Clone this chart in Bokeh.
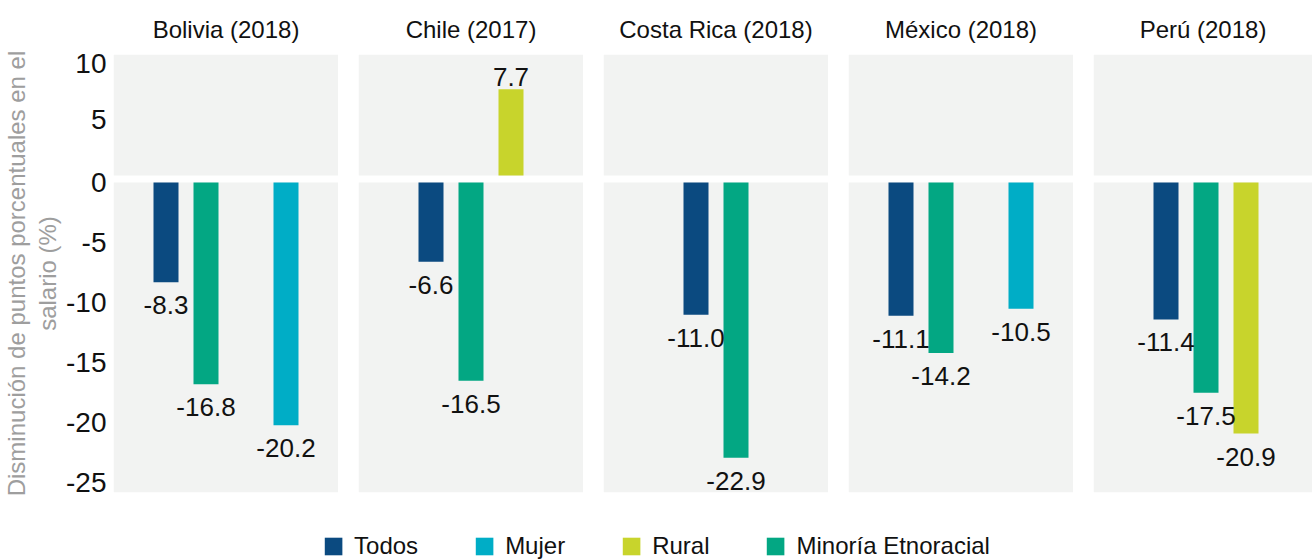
from bokeh.core.properties import value
from bokeh.embed import file_html
from bokeh.layouts import column, row
from bokeh.models import (BoxAnnotation, ColumnDataSource, CustomJSTickFormatter,
                          FixedTicker, Legend, LegendItem, Range1d, Title)
from bokeh.plotting import figure
from bokeh.resources import INLINE
import math

# ---- data -------------------------------------------------------------
countries = ["Bolivia (2018)", "Chile (2017)", "Costa Rica (2018)", "México (2018)", "Perú (2018)"]
todos = [-8.3, -6.6, -11.0, -11.1, -11.4]
mujer = [-20.2, None, None, -10.5, None]
rural = [None, 7.7, None, None, -20.9]
minoria = [-16.8, -16.5, -22.9, -14.2, -17.5]
legend_labels = ["Todos", "Mujer", "Rural", "Minoría Etnoracial"]
neg_ticks = [-25, -20, -15, -10, -5, 0]
pos_ticks = [5, 10]
y_title = ["Disminución de puntos porcentuales en el", "salario (%)"]

series = {"Todos": todos, "Mujer": mujer, "Rural": rural, "Minoría Etnoracial": minoria}
colors = {"Todos": "#0B4A80", "Mujer": "#00ADC6", "Rural": "#C8D42C",
          "Minoría Etnoracial": "#03A783"}
# order of the bar slots inside each panel
slot_order = ["Todos", "Minoría Etnoracial", "Rural", "Mujer"]

# ---- style / geometry ----------------------------------------------------
FONT = "Liberation Sans"
INK = "#111111"
PANEL_BG = "#F2F3F2"
AXIS_GREY = "#9E9E9E"

PAGE_W = 1312
LEFT_W = 113
PANEL_W = 225
GAP_W = 20
TITLE_H = 54
POS_H = 121
BREAK_H = 7
NEG_H = 310
FOOT_H = 10
LEGEND_H = 58
SLOT_PX = 40
BAR_PX = 25

NEG_MIN = -25.8
POS_MAX = 10.8
k_neg = NEG_H / -NEG_MIN          # px per unit, lower panel
k_pos = POS_H / POS_MAX           # px per unit, upper panel
main_top = (POS_H + BREAK_H) / k_neg
pos_bottom = -(NEG_H + BREAK_H) / k_pos
FRAME_H = POS_H + BREAK_H + NEG_H


def pos_to_main(v):
    """Position of an upper-panel value on the lower panel's scale."""
    return NEG_MIN + (NEG_H + BREAK_H + v * k_pos) / k_neg


tick_positions = [float(t) for t in neg_ticks] + [pos_to_main(t) for t in pos_ticks]
tick_formatter = CustomJSTickFormatter(
    args=dict(nmin=NEG_MIN, kn=k_neg, kp=k_pos, off=NEG_H + BREAK_H),
    code="""
        if (tick > 0) {
            return String(Math.round(((tick - nmin) * kn - off) / kp));
        }
        return String(Math.round(tick));
    """,
)

panels = []
last = len(countries) - 1
for i, country in enumerate(countries):
    present = [s for s in slot_order if series[s][i] is not None]
    n_slots = max(slot_order.index(s) for s in present) + 1
    centre = (n_slots - 1) / 2
    fw = PANEL_W if i < last else PAGE_W - LEFT_W - PANEL_W - (last - 1) * (GAP_W + PANEL_W) - GAP_W
    x0 = centre - PANEL_W / 2 / SLOT_PX
    x_range = Range1d(x0, x0 + fw / SLOT_PX)

    neg = dict(x=[], v=[], c=[], t=[])
    pos = dict(x=[], v=[], c=[], t=[])
    for s in present:
        v = series[s][i]
        d = pos if v > 0 else neg
        d["x"].append(slot_order.index(s))
        d["v"].append(v)
        d["c"].append(colors[s])
        d["t"].append(f"{v:.1f}")

    p = figure(frame_width=fw, frame_height=FRAME_H, x_range=x_range,
               y_range=Range1d(NEG_MIN, main_top), output_backend="svg",
               toolbar_location=None, title=country,
               min_border_left=LEFT_W if i == 0 else GAP_W, min_border_right=0,
               min_border_top=TITLE_H, min_border_bottom=FOOT_H,
               x_axis_location=None, y_axis_location="left" if i == 0 else None,
               background_fill_color="white", border_fill_color="white",
               outline_line_color=None)
    p.extra_y_ranges = {"pos": Range1d(pos_bottom, POS_MAX)}
    p.xgrid.grid_line_color = None
    p.ygrid.grid_line_color = None

    p.title.align = "center"
    p.title.text_font = FONT
    p.title.text_font_size = "24px"
    p.title.text_font_style = "normal"
    p.title.text_color = INK
    p.title.standoff = 24

    # grey panel backgrounds: lower (negative) and upper (positive)
    p.add_layout(BoxAnnotation(bottom=NEG_MIN, top=0, fill_color=PANEL_BG, fill_alpha=1,
                               line_color=None, level="underlay"))
    p.add_layout(BoxAnnotation(bottom=0, top=POS_MAX, y_range_name="pos",
                               fill_color=PANEL_BG, fill_alpha=1,
                               line_color=None, level="underlay"))

    label_style = dict(text_align="center", text_baseline="middle",
                       text_font=value(FONT), text_font_size="26px", text_color=INK)
    if neg["x"]:
        src = ColumnDataSource(neg)
        p.vbar(x="x", top=0, bottom="v", width=BAR_PX / SLOT_PX, fill_color="c",
               line_color=None, source=src)
        p.text(x="x", y="v", text="t", source=src, y_offset=23, **label_style)
    if pos["x"]:
        src = ColumnDataSource(pos)
        p.vbar(x="x", bottom=0, top="v", width=BAR_PX / SLOT_PX, fill_color="c",
               line_color=None, source=src, y_range_name="pos")
        p.text(x="x", y="v", text="t", source=src, y_offset=-12,
               y_range_name="pos", **label_style)

    if i == 0:
        ax = p.yaxis[0]
        ax.ticker = FixedTicker(ticks=tick_positions)
        ax.formatter = tick_formatter
        ax.axis_line_color = None
        ax.major_tick_line_color = None
        ax.minor_tick_line_color = None
        ax.major_tick_out = 0
        ax.major_tick_in = 0
        ax.major_label_standoff = 7
        ax.major_label_text_font = FONT
        ax.major_label_text_font_size = "28px"
        ax.major_label_text_color = INK
        # two-line rotated axis title, innermost line first
        for line, gap in zip(reversed(y_title), (5, 0)):
            p.add_layout(Title(text=line, align="center", text_font=FONT,
                               text_font_size="24px", text_font_style="normal",
                               text_color=AXIS_GREY, standoff=gap, offset=-5), "left")

    panels.append(p)

# legend strip; swatch renderers hold a single NaN bar so nothing is drawn
lf = figure(width=PAGE_W, height=LEGEND_H, x_range=Range1d(0, 1), y_range=Range1d(0, 1),
            output_backend="svg", toolbar_location=None, title=None, min_border=0,
            x_axis_location=None, y_axis_location=None, outline_line_color=None,
            background_fill_color="white", border_fill_color="white")
lf.xgrid.grid_line_color = None
lf.ygrid.grid_line_color = None
items = []
for s in legend_labels:
    r = lf.vbar(x=[math.nan], top=[math.nan], width=1, fill_color=colors[s], line_color=None)
    items.append(LegendItem(label=s, renderers=[r]))
legend = Legend(items=items, orientation="horizontal", location="bottom_center",
                glyph_width=22, glyph_height=22, label_standoff=10, spacing=55,
                padding=2, margin=0, border_line_color=None, background_fill_alpha=0,
                label_text_font=FONT, label_text_font_size="24px", label_text_color=INK)
lf.add_layout(legend, "center")

layout = column(row(*panels), lf)

with open("out.html", "w") as f:
    f.write(file_html(layout, INLINE))
